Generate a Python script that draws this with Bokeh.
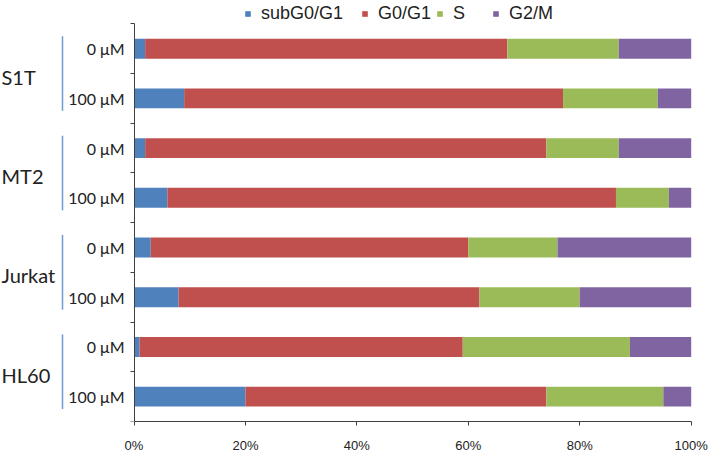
from bokeh.plotting import figure
from bokeh.models import (Range1d, FixedTicker, PrintfTickFormatter, Legend,
                          LegendItem, ColumnDataSource)
from bokeh.core.properties import value
from bokeh.embed import file_html
from bokeh.resources import INLINE

# ---- data -------------------------------------------------------------
cell_lines = ["S1T", "MT2", "Jurkat", "HL60"]
doses = ["0 μM", "100 μM"]
phases = ["subG0/G1", "G0/G1", "S", "G2/M"]
colors = ["#4F81BD", "#C0504D", "#9BBB59", "#8064A2"]
subg0_g1 = [2, 9, 2, 6, 3, 8, 1, 20]
g0_g1 = [65, 68, 72, 80.5, 57, 54, 58, 54]
s_phase = [20, 17, 13, 9.5, 16, 18, 30, 21]
g2_m = [13, 6, 13, 4, 24, 20, 11, 5]
x_ticks = [0, 20, 40, 60, 80, 100]

# ---- layout helpers ---------------------------------------------------
PX = 5.572            # screen pixels per percent
ZERO = 133.5          # screen x of 0% inside the canvas
SLOT = 50.06          # screen pixels per bar slot
TOP = 23.5            # screen y of the first slot boundary
W, H = 709, 455
BORDER_R, BORDER_B = 10, 31
FRAME_W, FRAME_H = W - BORDER_R, H - BORDER_B
LEGEND_X = [244, 361, 436, 492]   # screen x of each legend entry

def sx(px):
    return (px - ZERO) / PX

n = len(cell_lines) * len(doses)
centers = [i + 0.5 for i in range(n)]
dose_labels = [d for _ in cell_lines for d in doses]
src = ColumnDataSource(dict(y=centers, subg=subg0_g1, g0=g0_g1, s=s_phase,
                            g2=g2_m, dose=dose_labels))

p = figure(width=W, height=H, output_backend="svg", toolbar_location=None,
           x_range=Range1d(sx(0), sx(FRAME_W)),
           y_range=Range1d(n, -TOP / SLOT),
           y_axis_location="right",
           min_border_left=0, min_border_right=BORDER_R, min_border_top=0,
           min_border_bottom=BORDER_B)
p.outline_line_color = None
p.xgrid.visible = False
p.ygrid.visible = False

rs = p.hbar_stack(["subg", "g0", "s", "g2"], y="y", height=0.4, source=src,
                  color=colors, line_color=None)

# x axis
xa = p.xaxis[0]
xa.ticker = FixedTicker(ticks=x_ticks)
xa.bounds = (0, 100)
xa.formatter = PrintfTickFormatter(format="%d%%")
xa.major_tick_out = 4
xa.major_tick_in = 0
xa.minor_tick_out = 0
xa.minor_tick_in = 0
xa.axis_line_color = "#404040"
xa.major_tick_line_color = "#404040"
xa.major_label_text_font = "Liberation Sans"
xa.major_label_text_font_size = "13px"
xa.major_label_text_color = "#222222"
xa.major_label_standoff = 12

# y axis (drawn at 0%, ticks only)
ya = p.yaxis[0]
ya.fixed_location = 0
ya.ticker = FixedTicker(ticks=list(range(n + 1)))
ya.bounds = (0, n)
ya.major_tick_in = 4
ya.major_tick_out = 0
ya.minor_tick_in = 0
ya.minor_tick_out = 0
ya.major_label_overrides = {i: "" for i in range(n + 1)}
ya.major_label_standoff = 0
ya.axis_line_color = "#404040"
ya.major_tick_line_color = "#404040"

# dose labels
p.text(x=sx(124), y="y", text="dose", source=src, text_align="right",
       text_baseline="middle", text_font=value("Lato"),
       text_font_size="16px", text_color="#222222")

# cell-line labels and brackets
g_centers = [2 * i + 1.06 for i in range(len(cell_lines))]
p.text(x=[sx(1)] * len(cell_lines), y=g_centers, text=cell_lines,
       text_align="left", text_baseline="middle", text_font=value("Lato"),
       text_font_size="20px", text_color="#222222")
p.segment(x0=sx(62), x1=sx(62), y0=[2 * i + 0.25 for i in range(len(cell_lines))],
          y1=[2 * i + 1.75 for i in range(len(cell_lines))],
          line_color="#6F9BD1", line_width=1.5)

for ph, r, lx in zip(phases, rs, LEGEND_X):
    lg = Legend(items=[LegendItem(label=ph, renderers=[r])],
                orientation="horizontal", location=(lx, FRAME_H - 27),
                glyph_width=7, glyph_height=7, label_standoff=10,
                padding=0, margin=0, border_line_color=None,
                background_fill_alpha=0,
                label_text_font="Liberation Sans", label_text_font_size="18px",
                label_text_color="#222222")
    p.add_layout(lg)

open("out.html", "w").write(file_html(p, INLINE))
